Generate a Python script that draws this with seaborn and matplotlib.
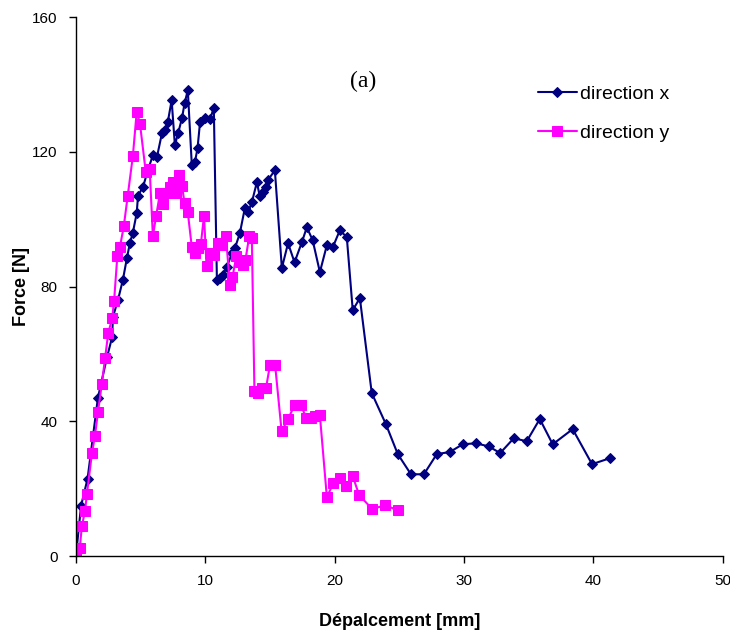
import matplotlib
matplotlib.use("Agg")
import matplotlib.pyplot as plt
import numpy as np
import pandas as pd
import seaborn as sns

# direction x (navy diamonds)
disp_x = [0.0, 0.4, 0.9, 1.7, 2.4, 2.8, 2.86, 3.25, 3.63, 3.94, 4.17, 4.4, 4.7, 4.8,
          5.18, 5.56, 5.95, 6.26, 6.65, 6.9, 7.1, 7.4, 7.65, 7.9, 8.2, 8.4, 8.65,
          8.96, 9.2, 9.4, 9.6, 9.97, 10.36, 10.66, 10.9, 11.13, 11.36, 11.67, 12.06,
          12.29, 12.67, 13.06, 13.29, 13.6, 13.99, 14.2, 14.45, 14.68, 14.84, 15.38,
          15.92, 16.4, 16.9, 17.47, 17.85, 18.3, 18.86, 19.4, 19.86, 20.4, 20.94,
          21.4, 21.95, 22.87, 23.96, 24.88, 25.9, 26.9, 27.9, 28.9, 29.9, 30.9,
          31.9, 32.8, 33.85, 34.85, 35.86, 36.86, 38.4, 39.9, 41.3]
force_x = [0, 15, 23, 47, 59, 65, 71, 76, 82, 88.4, 92.9, 96, 101.8, 107,
           109.5, 114.5, 119, 118.4, 125.5, 126.4, 128.8, 135.3, 122, 125.5, 130, 134.4, 138.3,
           116, 117, 121, 129, 130, 129.7, 133, 81.9, 82.5, 83.4, 85.8, 89.9,
           91.4, 95.8, 103.3, 102, 105, 111, 107, 108, 109.5, 111.6, 114.5,
           85.5, 92.9, 87.2, 93.2, 97.6, 93.8, 84.3, 92.3, 91.7, 96.7, 94.7,
           73, 76.6, 48.4, 39.2, 30.3, 24.3, 24.3, 30.3, 30.9, 33.2, 33.5,
           32.6, 30.6, 35, 34.1, 40.7, 33.2, 37.7, 27.3, 29.1]

# direction y (magenta squares)
disp_y = [0.0, 0.3, 0.46, 0.7, 0.85, 1.24, 1.47, 1.7, 2.0, 2.25, 2.5, 2.8, 2.95, 3.2,
          3.4, 3.7, 4.0, 4.4, 4.7, 4.95, 5.4, 5.7, 5.95, 6.2, 6.5, 6.7, 7.0, 7.3,
          7.5, 7.7, 8.0, 8.2, 8.4, 8.65, 8.96, 9.2, 9.4, 9.66, 9.9, 10.1, 10.36,
          10.66, 11.0, 11.3, 11.6, 11.9, 12.1, 12.4, 12.7, 12.9, 13.1, 13.4, 13.6,
          13.8, 14.1, 14.4, 14.7, 15.0, 15.4, 15.9, 16.4, 16.9, 17.4, 17.8, 18.2,
          18.5, 18.86, 19.4, 19.9, 20.4, 20.9, 21.4, 21.9, 22.9, 23.9, 24.9]
force_y = [0, 2.5, 8.9, 13.4, 18.4, 30.6, 35.6, 42.7, 51, 58.7, 66.2, 70.6, 75.7, 89,
           91.7, 97.9, 106.8, 118.7, 131.9, 128.4, 114, 115, 95, 101, 107.7, 104.5, 107.7, 109.5,
           111, 107.7, 113, 110, 104.7, 102, 91.7, 90, 91.4, 92.6, 101, 86, 90,
           89.3, 93, 92.3, 95, 80.4, 82.8, 89, 87.2, 86.4, 87.8, 95, 94.4,
           49, 48.4, 50, 50, 56.7, 56.7, 37.1, 40.7, 44.8, 44.8, 41, 41,
           41.5, 41.8, 17.5, 21.7, 23.1, 20.8, 23.7, 18.1, 14, 15.1, 13.6]

x_ticks = [0, 10, 20, 30, 40, 50]
y_ticks = [0, 40, 80, 120, 160]

sns.set_style("white")
plt.rcParams["font.family"] = ["Liberation Sans Narrow", "Liberation Sans", "DejaVu Sans"]
plt.rcParams["text.color"] = "black"
plt.rcParams["axes.labelcolor"] = "black"
plt.rcParams["xtick.color"] = "black"
plt.rcParams["ytick.color"] = "black"

fig, ax = plt.subplots(figsize=(7.3, 6.32), dpi=100)
fig.subplots_adjust(left=0.104, right=0.99, bottom=0.12, top=0.973)

df_x = pd.DataFrame({"d": disp_x, "f": force_x})
df_y = pd.DataFrame({"d": disp_y, "f": force_y})

sns.lineplot(data=df_x, x="d", y="f", sort=False, color="#000080", marker="D",
             markersize=5.5, markeredgecolor="#000080", linewidth=1.5,
             label="direction x", ax=ax)
sns.lineplot(data=df_y, x="d", y="f", sort=False, color="#FF00FF", marker="s",
             markersize=7.5, markeredgecolor="#FF00FF", linewidth=1.5,
             label="direction y", ax=ax)

ax.set_xlim(0, 50)
ax.set_ylim(0, 160)
ax.set_xticks(x_ticks)
ax.set_yticks(y_ticks)
ax.tick_params(axis="both", direction="out", length=5, width=1, labelsize=11,
               bottom=True, left=True, pad=8)
for side in ["top", "right"]:
    ax.spines[side].set_visible(False)
for side in ["left", "bottom"]:
    ax.spines[side].set_color("black")
    ax.spines[side].set_linewidth(1)

ax.set_xlabel("Dépalcement [mm]", fontsize=13, fontweight="bold", labelpad=18)
ax.set_ylabel("Force [N]", fontsize=13, fontweight="bold", labelpad=2)

ax.text(22.2, 141, "(a)", fontsize=17, ha="center", va="center",
        family=["Liberation Serif", "DejaVu Serif"])

ax.legend(loc="upper left", bbox_to_anchor=(0.714, 0.873), frameon=False,
          borderaxespad=0, borderpad=0,
          fontsize=14, handlelength=2.0, handletextpad=0.2, labelspacing=1.1)

plt.savefig("out.png", dpi=100)
plt.close()
